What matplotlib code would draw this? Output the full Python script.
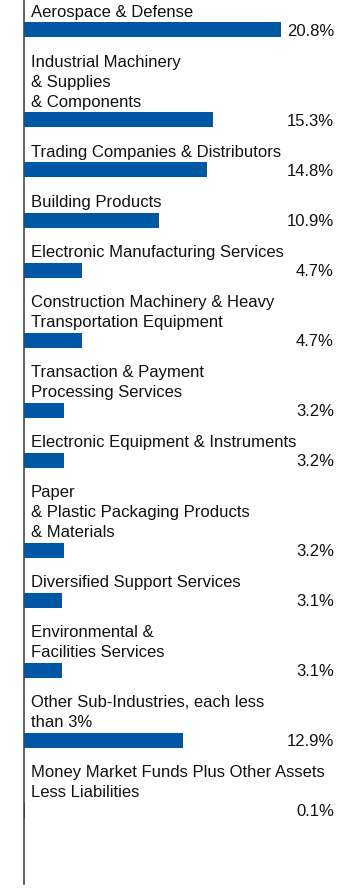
import matplotlib
matplotlib.use("Agg")
import matplotlib.pyplot as plt

# --- data ---
categories = [
    "Aerospace & Defense",
    "Industrial Machinery\n& Supplies\n& Components",
    "Trading Companies & Distributors",
    "Building Products",
    "Electronic Manufacturing Services",
    "Construction Machinery & Heavy\nTransportation Equipment",
    "Transaction & Payment\nProcessing Services",
    "Electronic Equipment & Instruments",
    "Paper\n& Plastic Packaging Products\n& Materials",
    "Diversified Support Services",
    "Environmental &\nFacilities Services",
    "Other Sub-Industries, each less\nthan 3%",
    "Money Market Funds Plus Other Assets\nLess Liabilities",
]
values = [20.8, 15.3, 14.8, 10.9, 4.7, 4.7, 3.2, 3.2, 3.2, 3.1, 3.1, 12.9, 0.1]
value_labels = ["20.8%", "15.3%", "14.8%", "10.9%", "4.7%", "4.7%", "3.2%",
                "3.2%", "3.2%", "3.1%", "3.1%", "12.9%", "0.1%"]

BLUE = "#0057a6"
W, H = 360, 888
PX_PER_PCT = 12.36
LINE = 20     # px between label lines
GAP = 30      # px from bar center to next block's first label

plt.rcParams['font.family'] = ['Liberation Sans', 'DejaVu Sans']

fig = plt.figure(figsize=(W / 100, H / 100), dpi=100)
left = 24
ax = fig.add_axes([left / W, 0, 1 - left / W, 1])
ax.set_ylim(H, 0)
ax.set_xlim(0, (W - left) / PX_PER_PCT)

# vertical layout in pixel units: each block = label lines + bar
ys = []
y = 30
for i, cat in enumerate(categories):
    n = cat.count("\n") + 1
    if i > 0:
        y += GAP + LINE * n
    ys.append(y)

ax.barh(ys, values, height=15, color=BLUE, left=0)

dx = 7 / PX_PER_PCT
for yc, cat, lab in zip(ys, categories, value_labels):
    n = cat.count("\n") + 1
    top = yc - 18 - LINE * (n - 1)
    for k, line in enumerate(cat.split("\n")):
        ax.text(dx, top + k * LINE, line, ha="left", va="center",
                fontsize=12, color="#111111")
    ax.text((334 - left) / PX_PER_PCT, yc + 1, lab, ha="right", va="center",
            fontsize=12, color="#111111")

for s in ["top", "right", "bottom"]:
    ax.spines[s].set_visible(False)
ax.spines["left"].set_color("#444444")
ax.spines["left"].set_linewidth(1.2)
ax.spines["left"].set_bounds(0, 884)
ax.set_xticks([])
ax.set_yticks([])

fig.savefig("out.png", dpi=100)
